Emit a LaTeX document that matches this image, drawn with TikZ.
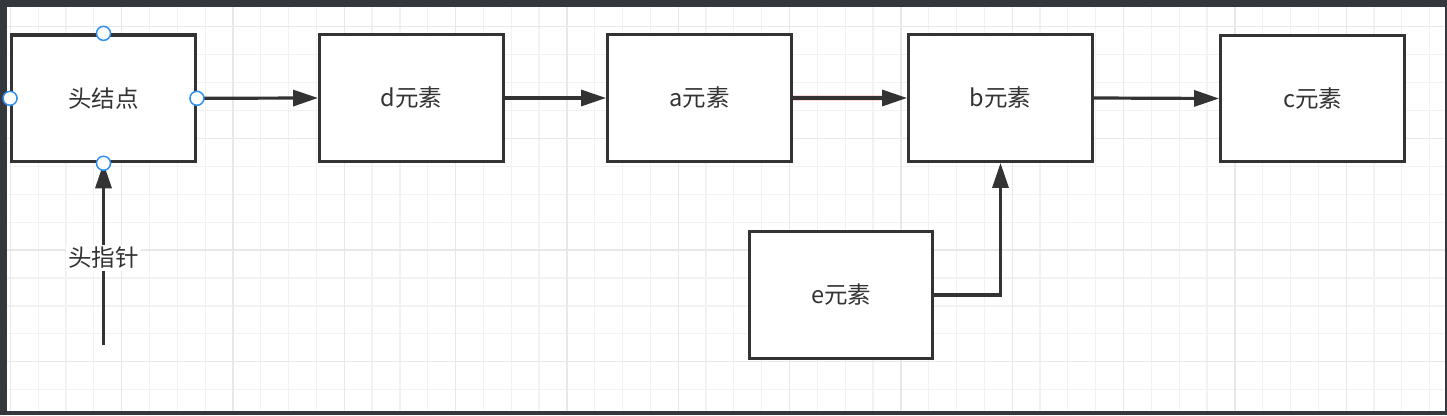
\documentclass[tikz,border=0pt]{standalone}
\usepackage{fontspec}
\setmainfont{Noto Sans CJK SC}
\usetikzlibrary{arrows.meta}

\definecolor{frame}{RGB}{52,56,61}
\definecolor{ink}{RGB}{51,51,51}
\definecolor{gridthin}{RGB}{242,242,242}
\definecolor{gridthick}{RGB}{232,232,232}
\definecolor{handle}{RGB}{48,144,240}

\tikzset{
  elem/.style={draw=ink,line width=3.4pt,fill=white,minimum width=183.5pt,minimum height=126.5pt,
    text=ink,font=\fontsize{23.5}{26}\selectfont},
  link/.style={draw=ink,line width=3.2pt,-{Triangle[length=25pt,width=16pt]}},
  handlept/.style={circle,draw=handle,line width=1.5pt,fill=white,minimum size=14pt,inner sep=0pt}
}

\begin{document}
\begin{tikzpicture}[x=1pt,y=-1pt]
  \useasboundingbox (0,0) rectangle (1447,415);
  \fill[frame] (0,0) rectangle (1447,415);
  \fill[white] (7,7) rectangle (1445,411);

  \begin{scope}
    \clip (7,7) rectangle (1445,411);
    \foreach \i in {0,...,51} \draw[gridthin,line width=1.2pt] ({10.3+27.83*\i},7) -- ++(0,404);
    \foreach \i in {0,...,13} \draw[gridthin,line width=1.2pt] (7,{26.7+27.92*\i}) -- ++(1438,0);
    \foreach \i in {0,...,12} \draw[gridthick,line width=1.5pt] ({10.3+111.33*\i},7) -- ++(0,404);
    \foreach \i in {0,...,3} \draw[gridthick,line width=1.5pt] (7,{26.7+111.67*\i}) -- ++(1438,0);
  \end{scope}

  \node[elem] (head) at (103.5,98.3) {头结点};
  \node[elem] (d) at (411.5,98) {d元素};
  \node[elem] (a) at (699.5,98) {a元素};
  \node[elem] (b) at (1000.5,98) {b元素};
  \node[elem] (c) at (1312.5,98.5) {c元素};
  \node[elem] (e) at (841,295) {e元素};

  \coordinate (ptr) at (103.5,345);

  \draw[link] (head.east) -- (d.west);
  \draw[link] (d.east) -- (a.west);
  \draw[red!25,opacity=0.6,line width=6pt] (a.east) -- ([xshift=-24pt]b.west);
  \draw[link] (a.east) -- (b.west);
  \draw[link] (b.east) -- (c.west);
  \draw[link] (e.east) -| (b.south);
  \draw[link] (ptr) -- (head.south)
    node[pos=0.48,fill=white,text=ink,inner sep=2pt,font=\fontsize{23.5}{26}\selectfont] (ptrlabel) {头指针};

  \foreach \side in {north,south,east,west}
    \node[handlept] at (head.\side) {};
\end{tikzpicture}
\end{document}
